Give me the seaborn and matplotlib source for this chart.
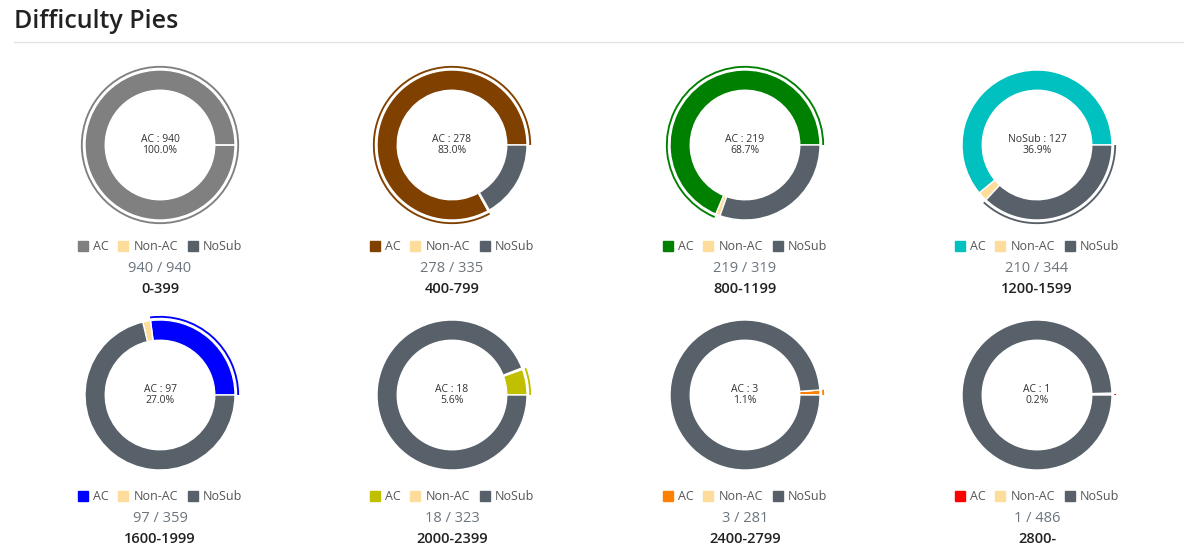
import matplotlib
matplotlib.use("Agg")
import matplotlib.pyplot as plt
import matplotlib.patches as mpatches
import seaborn as sns

sns.set_theme(style="white")
plt.rcParams['font.family'] = ['Open Sans', 'DejaVu Sans']

ranges = ["0-399", "400-799", "800-1199", "1200-1599", "1600-1999", "2000-2399", "2400-2799", "2800-"]
ac = [940, 278, 219, 210, 97, 18, 3, 1]
non_ac = [0, 1, 3, 7, 6, 1, 0, 1]
nosub = [0, 56, 97, 127, 256, 304, 278, 484]
totals = [940, 335, 319, 344, 359, 323, 281, 486]
active = [0, 0, 0, 2, 0, 0, 0, 0]  # index of highlighted slice
ac_colors = ["#808080", "#804000", "#008000", "#00C0C0", "#0000FF", "#C0C000", "#FF8000", "#FF0000"]
nonac_color = "#FDDC9C"
nosub_color = "#58616A"
names = ["AC", "Non-AC", "NoSub"]

W, H = 1200, 559
fig = plt.figure(figsize=(W / 100, H / 100), dpi=100)
fig.text(14 / W, 1 - 22 / H, "Difficulty Pies", fontsize=18, fontweight="semibold", color="#222", va="center")
fig.add_artist(plt.Line2D([14 / W, 1183 / W], [1 - 42 / H] * 2, color="#e3e3e3", lw=1))

cx = [160, 452, 745, 1037]
cy = [145, 395]
box = 180
for i in range(8):
    x = cx[i % 4]; y = cy[i // 4]
    ax = fig.add_axes([(x - box / 2) / W, 1 - (y + box / 2) / H, box / W, box / H])
    vals = [ac[i], non_ac[i], nosub[i]]
    cols = [ac_colors[i], nonac_color, nosub_color]
    ax.pie(vals, colors=cols, startangle=0, counterclock=True, radius=1.0,
           wedgeprops=dict(width=0.27, edgecolor="white", linewidth=1))
    tot = sum(vals)
    a = active[i]
    start = sum(vals[:a])
    t1 = 360 * start / tot
    t2 = 360 * (start + vals[a]) / tot
    ax.add_patch(mpatches.Wedge((0, 0), 1.055, t1, t2, width=0.025, facecolor=cols[a], edgecolor="none"))
    ax.text(0, 0.07, f"{names[a]} : {vals[a]}", ha="center", va="center", fontsize=7.5, color="#333")
    ax.text(0, -0.07, f"{100 * vals[a] / tot:.1f}%", ha="center", va="center", fontsize=7.5, color="#333")
    ax.set_xlim(-1.2, 1.2); ax.set_ylim(-1.2, 1.2); ax.set_aspect("equal"); ax.axis("off")

    ly = cy[i // 4] + 102
    handles = [mpatches.Patch(color=c, label=n) for c, n in zip(cols, names)]
    fig.legend(handles=handles, loc="center", bbox_to_anchor=(x / W, 1 - ly / H), ncol=3, frameon=False,
               fontsize=9, handlelength=0.8, handleheight=0.8, handletextpad=0.4, columnspacing=0.8,
               labelcolor="#555")
    fig.text(x / W, 1 - (ly + 21) / H, f"{ac[i]} / {totals[i]}", ha="center", va="center", fontsize=10.5, color="#6c757d")
    fig.text(x / W, 1 - (ly + 42) / H, ranges[i], ha="center", va="center", fontsize=10.5, fontweight="semibold", color="#222")

fig.savefig("out.png", dpi=100, facecolor="white")
